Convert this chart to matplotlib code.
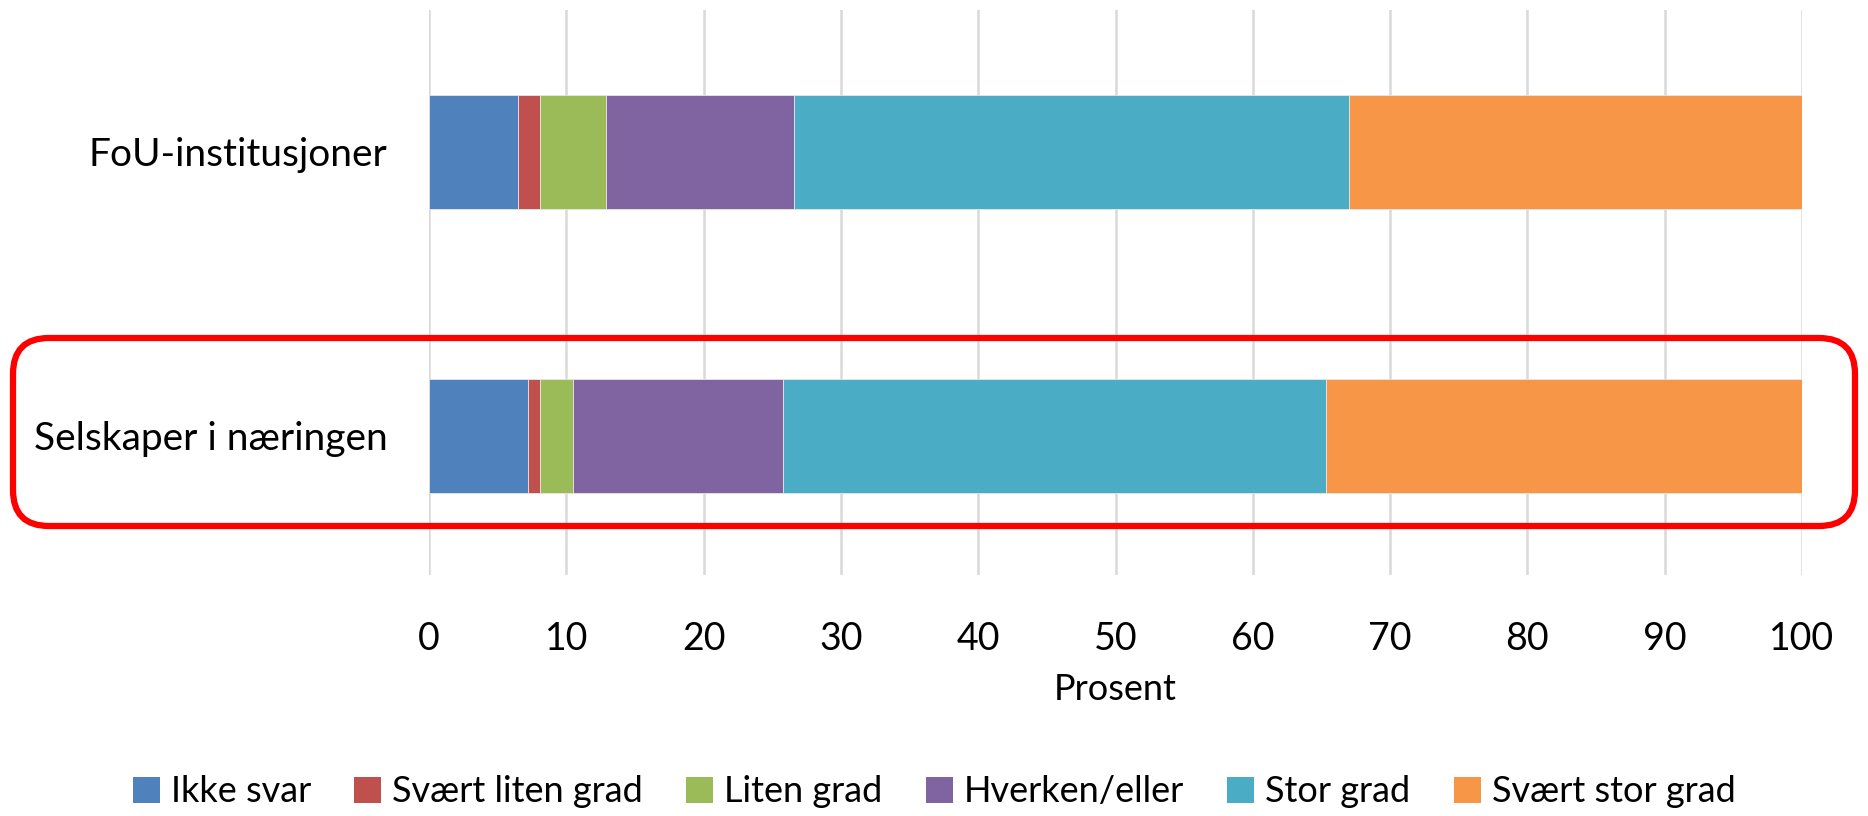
import matplotlib
matplotlib.use('Agg')
import matplotlib.pyplot as plt
from matplotlib.patches import FancyBboxPatch, Patch
from matplotlib.transforms import IdentityTransform
import numpy as np

plt.rcParams['font.family'] = ['Lato', 'DejaVu Sans']

categories = ['Selskaper i næringen', 'FoU-institusjoner']
series_names = ['Ikke svar', 'Svært liten grad', 'Liten grad',
                'Hverken/eller', 'Stor grad', 'Svært stor grad']
colors = ['#4F81BD', '#C0504D', '#9BBB59', '#8064A2', '#4BACC6', '#F79646']

# values per series: [Selskaper, FoU]
ikke_svar = [7.2, 6.5]
svaert_liten = [0.9, 1.6]
liten = [2.4, 4.8]
hverken = [15.3, 13.7]
stor = [39.5, 40.4]
svaert_stor = [34.7, 33.0]
series = [ikke_svar, svaert_liten, liten, hverken, stor, svaert_stor]

x_ticks = list(range(0, 101, 10))

W, H = 1868, 816
fig = plt.figure(figsize=(W / 100, H / 100), dpi=100)
ax = fig.add_axes([429 / W, 1 - 575 / H, (1802 - 429) / W, (575 - 10) / H])

y = np.arange(len(categories))
left = np.zeros(len(categories))
for vals, name, c in zip(series, series_names, colors):
    ax.barh(y, vals, left=left, height=0.4, color=c, label=name,
            edgecolor='#e6e6e6', linewidth=0.6, zorder=3)
    left += np.array(vals)

ax.set_xlim(0, 100)
ax.set_ylim(-0.49, 1.5)
ax.set_xticks(x_ticks)
ax.set_yticks(y)
ax.set_yticklabels(categories)
ax.grid(axis='x', color='#d9d9d9', linewidth=1.8, zorder=0)
ax.tick_params(axis='both', length=0, labelsize=27)
ax.tick_params(axis='y', pad=30, labelsize=28)
ax.tick_params(axis='x', pad=33)
for s in ax.spines.values():
    s.set_visible(False)
ax.set_xlabel('Prosent', fontsize=26, labelpad=12)

handles = [Patch(facecolor=c, label=n) for n, c in zip(series_names, colors)]
fig.legend(handles=handles, loc='center', bbox_to_anchor=(0.5, 1 - 792 / H),
           ncol=6, frameon=False, fontsize=26, handlelength=0.75,
           handleheight=0.75, handletextpad=0.3, columnspacing=1.2)

box = FancyBboxPatch((13, H - 526), W - 26, 188,
                     boxstyle='round,pad=0,rounding_size=36',
                     transform=IdentityTransform(), fill=False,
                     edgecolor='#ff0000', linewidth=4.5)
fig.patches.append(box)

fig.savefig('out.png', dpi=100)
